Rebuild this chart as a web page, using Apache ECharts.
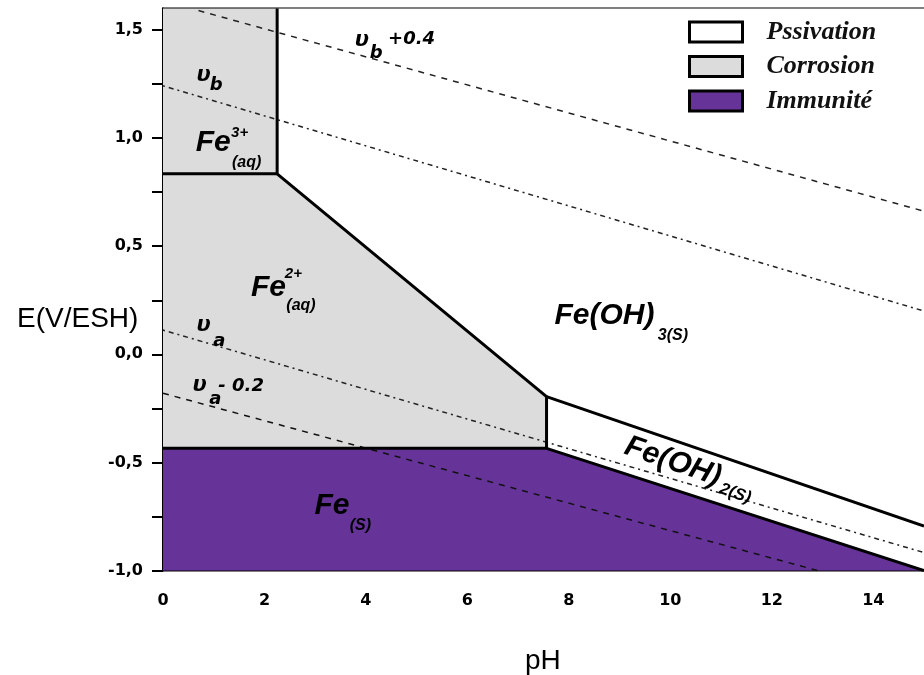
<!DOCTYPE html>
<html><head><meta charset="utf-8">
<script src="https://cdn.jsdelivr.net/npm/echarts@6/dist/echarts.min.js"></script>
<style>html,body{margin:0;padding:0;background:#fff}#c{width:924px;height:675px}</style>
</head><body><div id="c"></div>
<script>
// ---- domain regions (pH, E) ----
const corrosionPH = [0, 2.25, 2.25, 7.56, 7.56, 0];
const corrosionE  = [1.6, 1.6, 0.835, -0.196, -0.435, -0.435];
const immunitePH  = [0, 7.56, 15, 0];
const immuniteE   = [-0.435, -0.435, -1.0, -1.0];
const passivationPH = [2.25, 15, 15, 7.56, 7.56, 2.25];
const passivationE  = [1.6, 1.6, -1.0, -0.435, -0.196, 0.835];

// ---- boundary lines ----
const bFe3Fe2PH = [0, 2.25];             const bFe3Fe2E = [0.835, 0.835];
const bOH3PH = [2.25, 2.25, 7.56, 7.56]; const bOH3E = [1.6, 0.835, -0.196, -0.435];
const bFePH = [0, 7.56, 15];             const bFeE = [-0.435, -0.435, -1.0];
const bOH2PH = [7.56, 15];               const bOH2E = [-0.196, -0.794];

// ---- water stability lines ----
const ubPH = [0, 15];      const ubE = [1.242, 0.20];
const ub04PH = [0.7, 15];  const ub04E = [1.59, 0.662];
const uaPH = [0, 15];      const uaE = [0.112, -0.917];
const ua02PH = [0, 12.9];  const ua02E = [-0.18, -1.0];

// ---- ticks ----
const xTicks = [0,1,2,3,4,5,6,7,8,9,10,11,12,13,14];
const xLabels = [0,2,4,6,8,10,12,14];
const yTicks = [-1,-0.75,-0.5,-0.25,0,0.25,0.5,0.75,1,1.25,1.5];
const yLabels = [-1,-0.5,0,0.5,1,1.5];

// ---- legend ----
const legendNames = ['Pssivation', 'Corrosion', 'Immunité'];

// ---- annotations: text, pH, E ----
const annText = ['Fe','3+','(aq)', 'Fe','2+','(aq)', 'Fe(OH)','3(S)', 'Fe(OH)','2(S)', 'Fe','(S)',
                 'υ','b', 'υ','b','+0.4', 'υ','a', 'υ','a','- 0.2'];
const annPH = [0.99,1.51,1.65, 2.08,2.57,2.72, 8.70,10.05, 10.05,11.28, 3.33,3.89,
               0.80,1.05, 3.92,4.20,4.90, 0.80,1.11, 0.72,1.03,1.54];
const annE  = [0.98,1.025,0.885, 0.31,0.37,0.227, 0.18,0.088, -0.497,-0.644, -0.70,-0.792,
               1.288,1.242, 1.45,1.39,1.455, 0.131,0.061, -0.146,-0.206,-0.146];
const annKind = ['big','sup','sub', 'big','sup','sub', 'big','sub', 'bigR','subR', 'big','sub',
                 'u','us', 'u','us','n', 'u','us', 'u','us','n'];

const pts = (xs, ys) => xs.map((x, i) => [x, ys[i]]);

const kindStyle = {
  big:  {fontSize: 30, fontFamily: 'Liberation Sans', fontStyle: 'italic', fontWeight: 'bold'},
  bigR: {fontSize: 30, fontFamily: 'Liberation Sans', fontStyle: 'italic', fontWeight: 'bold', rotate: -19},
  sup:  {fontSize: 15, fontFamily: 'Liberation Sans', fontStyle: 'italic', fontWeight: 'bold'},
  sub:  {fontSize: 16, fontFamily: 'Liberation Sans', fontStyle: 'italic', fontWeight: 'bold'},
  subR: {fontSize: 17, fontFamily: 'Liberation Sans', fontStyle: 'italic', fontWeight: 'bold', rotate: -19},
  u:    {fontSize: 21, fontFamily: 'DejaVu Sans', fontStyle: 'italic', fontWeight: 'bold'},
  us:   {fontSize: 18, fontFamily: 'DejaVu Sans', fontStyle: 'italic', fontWeight: 'bold'},
  n:    {fontSize: 18, fontFamily: 'DejaVu Sans', fontStyle: 'italic', fontWeight: 'bold'}
};

function polySeries(name, xs, ys, color) {
  return {
    name: name, type: 'custom', z: 1, silent: true,
    itemStyle: {color: color},
    data: [0],
    renderItem: function (params, api) {
      const points = xs.map((x, i) => api.coord([x, ys[i]]));
      return {type: 'polygon', shape: {points: points}, style: {fill: color, stroke: null}};
    }
  };
}
function lineSeries(xs, ys, width, type, color, z) {
  return {
    type: 'line', data: pts(xs, ys), symbol: 'none', silent: true, z: z,
    lineStyle: {color: color, width: width, type: type}, animation: false
  };
}

const chart = echarts.init(document.getElementById('c'), null, {renderer: 'canvas'});
const tickFont = {fontFamily: 'DejaVu Sans', fontWeight: 'bold', fontSize: 16, color: '#000'};

chart.setOption({
  animation: false,
  backgroundColor: '#fff',
  grid: {left: 163, right: -8.5, top: 8.4, bottom: 104.5, show: true, borderColor: '#000', borderWidth: 2, backgroundColor: 'transparent'},
  legend: {
    orient: 'vertical', left: 688, top: 19, itemWidth: 53, itemHeight: 20, itemGap: 8.5,
    selectedMode: false, padding: 0,
    data: [
      {name: legendNames[0], icon: 'rect', itemStyle: {color: '#ffffff', borderColor: '#000', borderWidth: 3}},
      {name: legendNames[1], icon: 'rect', itemStyle: {color: '#dcdcdc', borderColor: '#000', borderWidth: 3}},
      {name: legendNames[2], icon: 'rect', itemStyle: {color: '#663399', borderColor: '#000', borderWidth: 3}}
    ],
    textStyle: {fontFamily: 'Liberation Serif', fontStyle: 'italic', fontWeight: 'bold', fontSize: 26, color: '#111', padding: [0, 0, 0, 19]}
  },
  xAxis: {
    type: 'value', min: 0, max: 15,
    axisLine: {lineStyle: {color: '#000', width: 2}},
    axisTick: {show: true, length: 11, lineStyle: {color: '#000', width: 2}, customValues: xTicks},
    axisLabel: Object.assign({margin: 22, customValues: xLabels, formatter: v => String(v)}, tickFont),
    splitLine: {show: false}
  },
  yAxis: {
    type: 'value', min: -1, max: 1.6,
    axisLine: {lineStyle: {color: '#000', width: 2}},
    axisTick: {show: true, length: 11, lineStyle: {color: '#000', width: 2}, customValues: yTicks},
    axisLabel: Object.assign({margin: 20, customValues: yLabels, formatter: v => v.toFixed(1).replace('.', ',')}, tickFont),
    splitLine: {show: false}
  },
  graphic: [
    {type: 'text', left: 17, top: 305, style: {text: 'E(V/ESH)', fontFamily: 'Liberation Sans', fontSize: 28, fill: '#000'}},
    {type: 'text', left: 525, top: 647, style: {text: 'pH', fontFamily: 'Liberation Sans', fontSize: 28, fill: '#000'}}
  ],
  series: [
    polySeries(legendNames[0], passivationPH, passivationE, '#ffffff'),
    polySeries(legendNames[1], corrosionPH, corrosionE, '#dcdcdc'),
    polySeries(legendNames[2], immunitePH, immuniteE, '#663399'),
    lineSeries(ubPH, ubE, 1.5, [2, 4, 5, 4], '#222', 3),
    lineSeries(ub04PH, ub04E, 1.5, [6, 6], '#222', 3),
    lineSeries(uaPH, uaE, 1.5, [2, 4, 5, 4], '#222', 3),
    lineSeries(ua02PH, ua02E, 1.5, [6, 6], '#111', 3),
    lineSeries(bFe3Fe2PH, bFe3Fe2E, 3, 'solid', '#000', 4),
    lineSeries(bOH3PH, bOH3E, 3, 'solid', '#000', 4),
    lineSeries(bFePH, bFeE, 3, 'solid', '#000', 4),
    lineSeries(bOH2PH, bOH2E, 3, 'solid', '#000', 4),
    {
      type: 'scatter', symbolSize: 0, z: 6, silent: true,
      itemStyle: {opacity: 1},
      data: annText.map((t, i) => ({
        value: [annPH[i], annE[i]],
        label: Object.assign({show: true, position: 'inside', color: '#000', opacity: 1, formatter: t}, kindStyle[annKind[i]])
      }))
    }
  ]
});
</script></body></html>
